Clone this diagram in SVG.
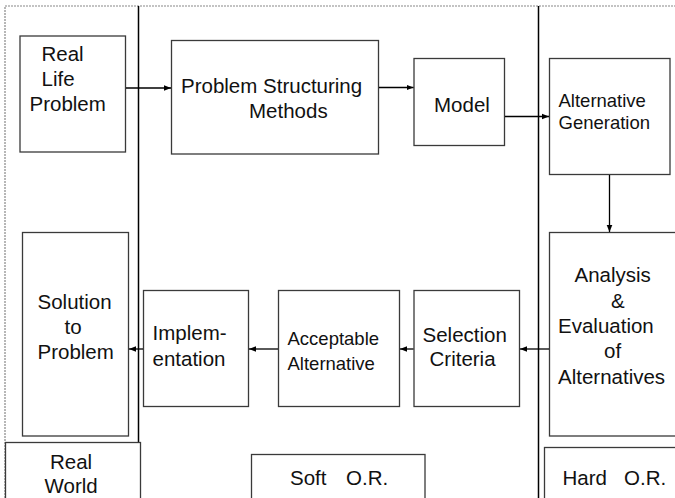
<svg xmlns="http://www.w3.org/2000/svg" width="675" height="498" viewBox="0 0 675 498">
<defs>
<marker id="ah" markerWidth="8" markerHeight="8" refX="7" refY="4" orient="auto" markerUnits="userSpaceOnUse">
<path d="M0,1.2 L7,4 L0,6.8 Z" fill="#000"/>
</marker>
<style>
.box{fill:#fff;stroke:#3a3a3a;stroke-width:1.3}
.t{font-family:"Liberation Sans",Arial,sans-serif;font-size:20.5px;fill:#111}
.s{font-family:"Liberation Sans",Arial,sans-serif;font-size:18.5px;fill:#111}
.c{stroke:#000;stroke-width:1.3;fill:none;marker-end:url(#ah)}
.div{stroke:#000;stroke-width:1.5}
.frame{fill:none;stroke:#888;stroke-width:1.2;stroke-dasharray:2 1}
</style>
</defs>
<rect width="675" height="498" fill="#fff"/>
<path class="frame" d="M5,498 L5,6 L675,6"/>
<line class="div" x1="138.5" y1="6" x2="138.5" y2="498"/>
<line class="div" x1="538.5" y1="6" x2="538.5" y2="498"/>

<g id="real-life-problem">
<rect class="box" x="20" y="36" width="105.5" height="116"/>
<text class="t" x="41.5" y="61">Real</text>
<text class="t" x="41.5" y="86">Life</text>
<text class="t" x="29.5" y="111">Problem</text>
</g>
<g id="problem-structuring-methods">
<rect class="box" x="171.5" y="40.5" width="207" height="113.5"/>
<text class="t" x="181" y="92.5">Problem Structuring</text>
<text class="t" x="249" y="117.5">Methods</text>
</g>
<g id="model">
<rect class="box" x="414" y="58.5" width="90.5" height="87"/>
<text class="t" x="434" y="111.5">Model</text>
</g>
<g id="alternative-generation">
<rect class="box" x="549.5" y="58.5" width="120.5" height="116"/>
<text class="s" x="558.5" y="106.5">Alternative</text>
<text class="s" x="558.5" y="129">Generation</text>
</g>
<g id="analysis-evaluation">
<rect class="box" x="549.5" y="232.5" width="130" height="203.5"/>
<text class="t" x="574.5" y="282">Analysis</text>
<text class="t" x="611" y="307.5">&amp;</text>
<text class="t" x="558" y="333">Evaluation</text>
<text class="t" x="604" y="358">of</text>
<text class="t" x="558" y="383.5">Alternatives</text>
</g>
<g id="selection-criteria">
<rect class="box" x="414" y="290.5" width="105.5" height="116"/>
<text class="t" x="422.5" y="341.5">Selection</text>
<text class="t" x="429.5" y="365.5">Criteria</text>
</g>
<g id="acceptable-alternative">
<rect class="box" x="278.5" y="290.5" width="121" height="116"/>
<text class="s" x="287.5" y="345">Acceptable</text>
<text class="s" x="287.5" y="369.5">Alternative</text>
</g>
<g id="implementation">
<rect class="box" x="143.5" y="290.5" width="105" height="116"/>
<text class="t" x="152.5" y="340">Implem-</text>
<text class="t" x="152.5" y="365.5">entation</text>
</g>
<g id="solution-to-problem">
<rect class="box" x="22.5" y="232.5" width="106" height="203.5"/>
<text class="t" x="37.5" y="309">Solution</text>
<text class="t" x="64.5" y="334">to</text>
<text class="t" x="37.5" y="359">Problem</text>
</g>
<g id="real-world">
<rect class="box" x="5.5" y="442.5" width="135" height="70"/>
<text class="t" x="50" y="469">Real</text>
<text class="t" x="44.5" y="493">World</text>
</g>
<g id="soft-or">
<rect class="box" x="251.5" y="454.5" width="173.5" height="60"/>
<text class="t" y="485"><tspan x="290">Soft</tspan><tspan x="346">O.R.</tspan></text>
</g>
<g id="hard-or">
<rect class="box" x="544.5" y="447.5" width="140" height="60"/>
<text class="t" y="484.5"><tspan x="562.5">Hard</tspan><tspan x="624">O.R.</tspan></text>
</g>

<g id="connectors">
<line class="c" x1="126" y1="88" x2="171" y2="88"/>
<line class="c" x1="379" y1="87.5" x2="413.5" y2="87.5"/>
<line class="c" x1="505" y1="116.5" x2="549" y2="116.5"/>
<line class="c" x1="609.5" y1="175" x2="609.5" y2="232"/>
<line class="c" x1="549" y1="349" x2="520" y2="349"/>
<line class="c" x1="413.5" y1="349" x2="400" y2="349"/>
<line class="c" x1="278" y1="349" x2="249" y2="349"/>
<line class="c" x1="143" y1="349" x2="129" y2="349"/>
</g>
</svg>
